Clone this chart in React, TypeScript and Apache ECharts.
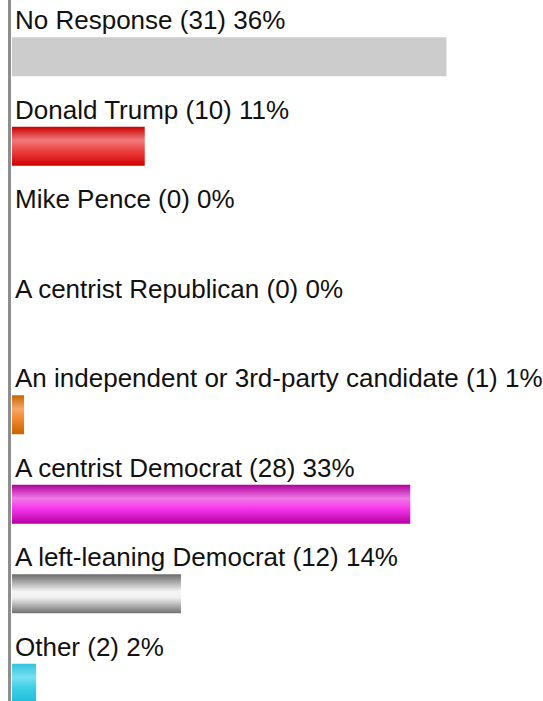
import React, { useEffect, useRef } from "react";
import * as echarts from "echarts";

const categories = [
  "No Response",
  "Donald Trump",
  "Mike Pence",
  "A centrist Republican",
  "An independent or 3rd-party candidate",
  "A centrist Democrat",
  "A left-leaning Democrat",
  "Other",
];
const counts = [31, 10, 0, 0, 1, 28, 12, 2];
const percents = [36, 11, 0, 0, 1, 33, 14, 2];

const grad = (stops: [number, string][]) =>
  new echarts.graphic.LinearGradient(
    0,
    0,
    0,
    1,
    stops.map(([offset, color]) => ({ offset, color }))
  );

const barColors = [
  "#cccccc",
  grad([
    [0, "#cc0000"],
    [0.35, "#f07a7a"],
    [0.6, "#ee4444"],
    [1, "#d00000"],
  ]),
  "#cccccc",
  "#cccccc",
  grad([
    [0, "#c86400"],
    [0.35, "#f4a868"],
    [0.6, "#f08a30"],
    [1, "#c86400"],
  ]),
  grad([
    [0, "#b0009c"],
    [0.35, "#f07ae8"],
    [0.6, "#f838ec"],
    [1, "#b400a4"],
  ]),
  grad([
    [0, "#6a6a6a"],
    [0.45, "#f6f6f6"],
    [0.6, "#f0f0f0"],
    [1, "#707070"],
  ]),
  grad([
    [0, "#30c4dc"],
    [0.35, "#78e0f0"],
    [0.6, "#40d0e8"],
    [1, "#20bcd8"],
  ]),
];

export default function App() {
  const ref = useRef<HTMLDivElement>(null);
  useEffect(() => {
    if (!ref.current) return;
    const chart = echarts.init(ref.current, undefined, { renderer: "svg" });
    chart.setOption({
      animation: false,
      backgroundColor: "#ffffff",
      grid: { left: 12, top: 12, width: 535, height: 716 },
      xAxis: { type: "value", min: 0, max: 44, show: false },
      yAxis: {
        type: "category",
        data: categories,
        inverse: true,
        show: false,
      },
      graphic: [
        {
          type: "rect",
          shape: { x: 8, y: 0, width: 3, height: 701 },
          style: { fill: "#8e8e8e" },
          z: 100,
        },
      ],
      series: [
        {
          type: "bar",
          barWidth: 39,
          data: percents.map((v, i) => ({
            value: v,
            itemStyle: { color: barColors[i] },
          })),
          label: {
            show: true,
            position: [3, -17],
            align: "left",
            verticalAlign: "middle",
            fontFamily: "'Liberation Sans', Arial, sans-serif",
            fontSize: 26,
            color: "#111111",
            formatter: (p: any) =>
              `${categories[p.dataIndex]} (${counts[p.dataIndex]}) ${percents[p.dataIndex]}%`,
          },
        },
      ],
    });
    return () => chart.dispose();
  }, []);
  return (
    <div
      style={{
        position: "fixed",
        left: 0,
        top: 0,
        width: 543,
        height: 701,
        overflow: "hidden",
        background: "#fff",
      }}
    >
      <div ref={ref} style={{ width: 543, height: 740 }} />
    </div>
  );
}
